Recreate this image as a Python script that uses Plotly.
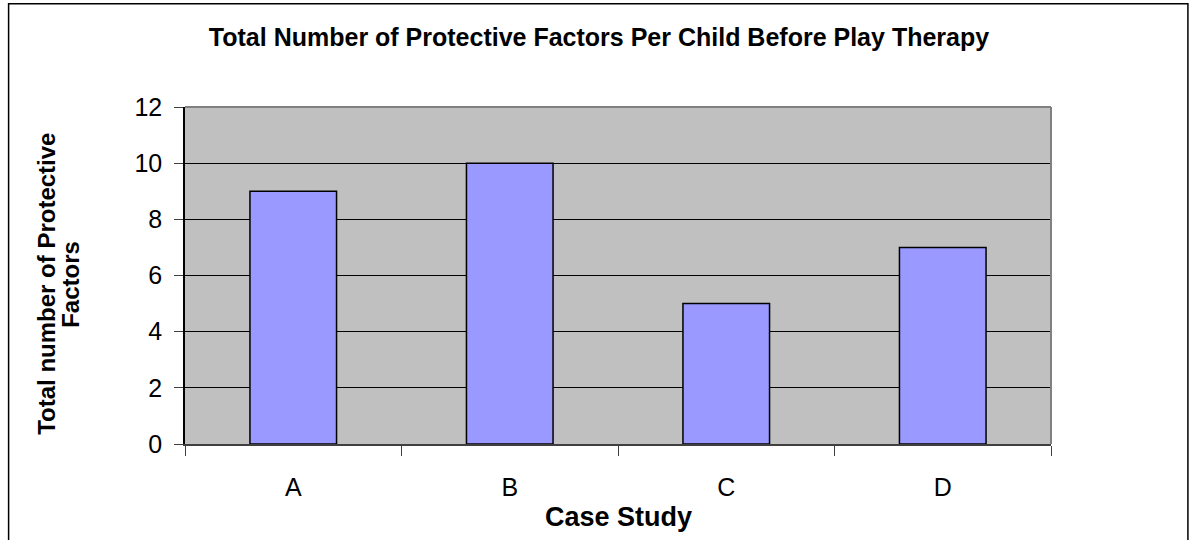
import plotly.graph_objects as go

categories = ["A", "B", "C", "D"]
values = [9, 10, 5, 7]
y_ticks = [0, 2, 4, 6, 8, 10, 12]

W, H = 1191, 540
L, R, T, B = 184.5, 1051, 106.5, 444
pw, ph = R - L, B - T

def px(x):
    return (x - L) / pw

def py(y):
    return (B - y) / ph

FONT = "Liberation Sans, Arial, sans-serif"

fig = go.Figure()
fig.add_trace(go.Bar(
    x=categories, y=values, width=0.4,
    marker=dict(color="#9999FF", line=dict(color="black", width=1.5)),
    hoverinfo="skip",
))

fig.update_layout(
    width=W, height=H,
    margin=dict(l=L, r=W - R, t=T, b=H - B, pad=0),
    paper_bgcolor="white",
    plot_bgcolor="#C0C0C0",
    showlegend=False,
    font=dict(family=FONT, color="black"),
    title=dict(
        text="<b>Total Number of Protective Factors Per Child Before Play Therapy</b>",
        x=599 / W, xanchor="center", xref="container",
        y=1 - 37 / H, yanchor="middle", yref="container",
        font=dict(size=25, family=FONT, color="black"),
    ),
)

fig.update_xaxes(
    type="category",
    showgrid=False,
    ticks="outside", tickson="boundaries", ticklen=10, tickcolor="#404040", tickwidth=1,
    showline=True, linecolor="#404040", linewidth=2,
    tickfont=dict(size=25, family=FONT, color="black"),
    ticklabelstandoff=20,
    range=[-0.5, 3.5],
)
fig.update_yaxes(
    range=[0, 12], tickvals=y_ticks,
    showgrid=True, gridcolor="black", gridwidth=1,
    zeroline=False,
    ticks="outside", ticklen=9, tickcolor="#404040", tickwidth=1,
    showline=True, linecolor="black", linewidth=1.5,
    tickfont=dict(size=25, family=FONT, color="black"),
    ticklabelstandoff=7,
)

# plot-area border (top and right)
fig.add_shape(type="line", xref="paper", yref="paper", x0=0, x1=1, y0=1, y1=1,
              line=dict(color="#808080", width=2), layer="above")
fig.add_shape(type="line", xref="paper", yref="paper", x0=1, x1=1, y0=0, y1=1,
              line=dict(color="#808080", width=2), layer="above")

# outer chart border
fig.add_shape(type="rect", xref="paper", yref="paper",
              x0=px(8), x1=px(1188), y0=py(3), y1=py(560),
              line=dict(color="black", width=1.5), layer="above")

fig.add_annotation(
    text="<b>Case Study</b>", xref="paper", yref="paper",
    x=0.5, y=py(517), xanchor="center", yanchor="middle",
    showarrow=False, font=dict(size=27, family=FONT, color="black"),
)
fig.add_annotation(
    text="<b>Total number of Protective</b>", xref="paper", yref="paper",
    x=px(46), y=py(284), xanchor="center", yanchor="middle", textangle=-90,
    showarrow=False, font=dict(size=24, family=FONT, color="black"),
)
fig.add_annotation(
    text="<b>Factors</b>", xref="paper", yref="paper",
    x=px(70), y=py(284), xanchor="center", yanchor="middle", textangle=-90,
    showarrow=False, font=dict(size=24, family=FONT, color="black"),
)

fig.write_html("out.html", config={"displayModeBar": False},
               post_script="document.body.style.margin='0px';")
